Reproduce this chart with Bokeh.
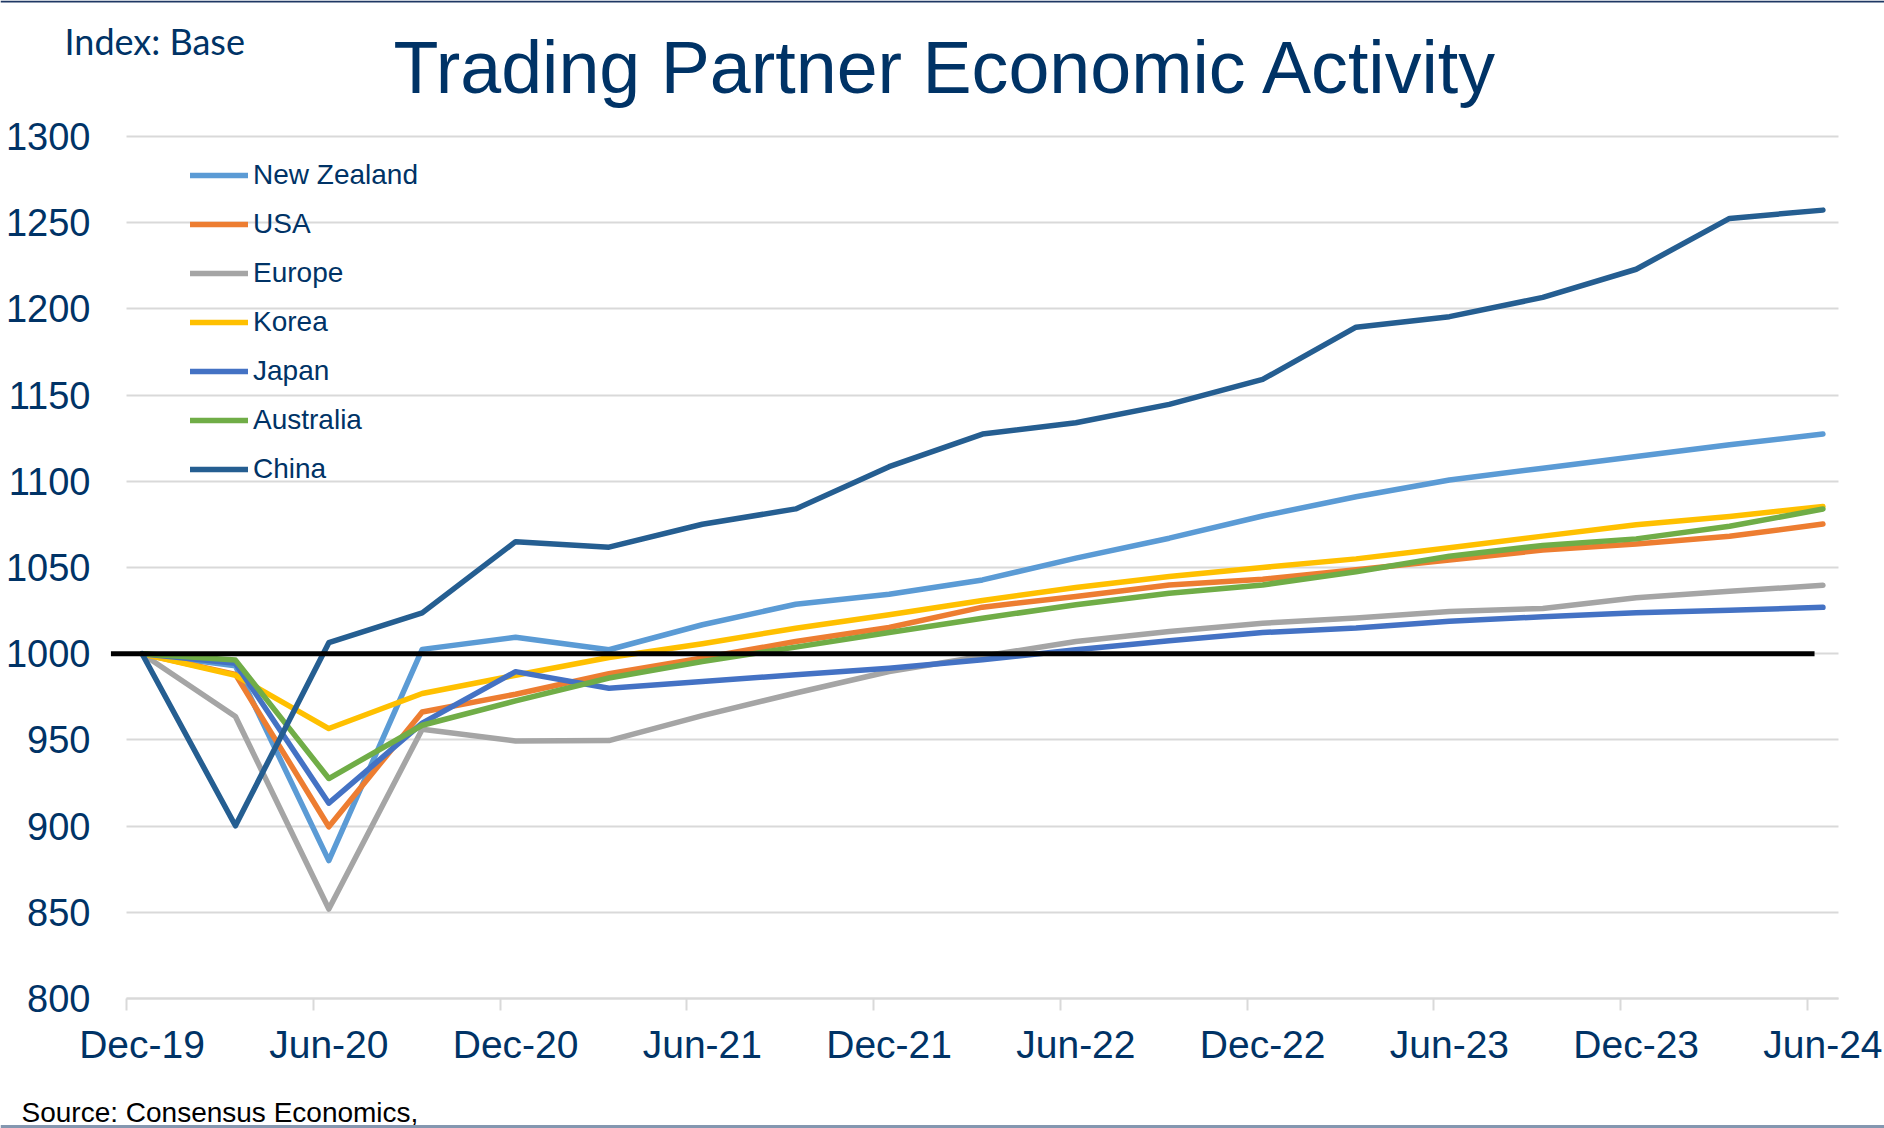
from bokeh.plotting import figure
from bokeh.models import (Range1d, LinearAxis, FixedTicker, Legend, LegendItem, Label, Span,
                          CustomLabelingPolicy)
from bokeh.embed import file_html
from bokeh.resources import INLINE

# ---------------- data ----------------
quarters = ["Dec-19", "Mar-20", "Jun-20", "Sep-20", "Dec-20", "Mar-21", "Jun-21", "Sep-21",
            "Dec-21", "Mar-22", "Jun-22", "Sep-22", "Dec-22", "Mar-23", "Jun-23", "Sep-23",
            "Dec-23", "Mar-24", "Jun-24"]
tick_labels = ["Dec-19", "Jun-20", "Dec-20", "Jun-21", "Dec-21", "Jun-22", "Dec-22",
               "Jun-23", "Dec-23", "Jun-24"]
y_ticks = [800, 850, 900, 950, 1000, 1050, 1100, 1150, 1200, 1250, 1300]

new_zealand = [1000, 993, 880, 1002.5, 1009.5, 1002.3, 1016.8, 1028.7, 1034.5, 1042.8,
               1055.4, 1067, 1079.9, 1091, 1100.8, 1107.6, 1114.4, 1121.2, 1127.4]
usa = [1000, 988, 899.6, 966.2, 976.5, 988.4, 997.5, 1007.1, 1015.2, 1027,
       1033.2, 1039.9, 1043.2, 1048.7, 1054.3, 1060.1, 1063.7, 1068.1, 1075.2]
europe = [1000, 963.6, 851.9, 956.2, 949.4, 949.6, 964.1, 977.2, 989.7, 998.5,
          1007.1, 1012.9, 1017.7, 1020.7, 1024.5, 1026.2, 1032.4, 1036.2, 1039.7]
korea = [1000, 987.5, 956.6, 976.9, 987.5, 997.8, 1005.8, 1014.8, 1022.6, 1030.9,
         1038.4, 1044.8, 1050, 1055, 1061.5, 1068.2, 1074.8, 1079.6, 1085.4]
japan = [1000, 994.4, 913.3, 959.7, 989.6, 980, 983.9, 987.8, 991.6, 996.5,
         1002.3, 1007.5, 1012.3, 1014.9, 1018.8, 1021.4, 1023.7, 1025.2, 1026.9]
australia = [1000, 996.3, 927.6, 958.5, 972.6, 985.9, 995.5, 1003.8, 1012.3, 1020.6,
             1028.4, 1035.1, 1039.9, 1047.5, 1056.5, 1062.8, 1066.6, 1073.9, 1083.9]
china = [1000, 900.2, 1006.4, 1023.7, 1065, 1061.8, 1075.1, 1084, 1108.5, 1127.4,
         1134, 1144.6, 1159.1, 1189.4, 1195.5, 1206.7, 1223, 1252.5, 1257.3]
baseline_level = 1000

series_names = ["New Zealand", "USA", "Europe", "Korea", "Japan", "Australia", "China"]
series_values = [new_zealand, usa, europe, korea, japan, australia, china]
series_colors = ["#5B9BD5", "#ED7D31", "#A5A5A5", "#FFC000", "#4472C4", "#70AD47", "#255E91"]

title_text = "Trading Partner Economic Activity"
index_text = "Index: Base"
source_text = "Source: Consensus Economics,"

NAVY = "#003366"
GRID = "#D9D9D9"

MONTHS = {"Jan": 1, "Feb": 2, "Mar": 3, "Apr": 4, "May": 5, "Jun": 6,
          "Jul": 7, "Aug": 8, "Sep": 9, "Oct": 10, "Nov": 11, "Dec": 12}


def month_index(lbl):
    m, y = lbl.split("-")
    return (2000 + int(y)) * 12 + MONTHS[m] - (2019 * 12 + 12)


x = [month_index(q) for q in quarters]

# ---------------- geometry (page pixels) ----------------
W, H = 1884, 1128
PL, PR, PT, PB = 126, 1838, 136, 998          # plot-area box on the page
x_lo, x_hi = -0.5, month_index(quarters[-1]) + 0.5
y_lo, y_hi = 800, 1300
kx = (PR - PL) / (x_hi - x_lo)
ky = (PB - PT) / (y_hi - y_lo)


def fx(px):
    return x_lo + (px - PL) / kx


def fy(py):
    return y_hi - (py - PT) / ky


p = figure(width=W, height=H, output_backend="svg", toolbar_location=None,
           x_range=Range1d(fx(0), fx(W)), y_range=Range1d(fy(H), fy(0)),
           x_axis_location=None, y_axis_location="left", min_border=0,
           min_border_left=0, min_border_right=0, min_border_top=0, min_border_bottom=0)
p.outline_line_color = None

# y axis drawn at the left edge of the plot area
p.yaxis.fixed_location = x_lo
p.yaxis.bounds = (y_lo, y_hi)
p.yaxis.ticker = FixedTicker(ticks=y_ticks)
p.yaxis.axis_line_color = None
p.yaxis.major_tick_line_color = None
p.yaxis.minor_tick_line_color = None
p.yaxis.major_tick_out = 0
p.yaxis.major_tick_in = 0
p.yaxis.major_label_standoff = 36
p.yaxis.major_label_text_font = "Liberation Sans"
p.yaxis.major_label_text_font_size = "38px"
p.yaxis.major_label_text_color = NAVY

p.xgrid.visible = False
p.ygrid.grid_line_color = GRID
p.ygrid.grid_line_width = 2
p.ygrid.cross_bounds = (x_lo, x_hi)

tick_axis = LinearAxis(ticker=FixedTicker(ticks=[month_index(t) - 0.5 for t in tick_labels]),
                       fixed_location=y_lo, bounds=(x_lo, x_hi),
                       axis_line_color=GRID, axis_line_width=2,
                       major_tick_line_color=GRID, major_tick_line_width=2,
                       major_tick_out=12, major_tick_in=0,
                       minor_tick_line_color=None, major_label_standoff=0,
                       major_label_policy=CustomLabelingPolicy(code="return"))
label_axis = LinearAxis(ticker=FixedTicker(ticks=[month_index(t) for t in tick_labels]),
                        major_label_overrides={month_index(t): t for t in tick_labels},
                        fixed_location=y_lo, bounds=(x_lo, x_hi),
                        axis_line_color=None, major_tick_line_color=None,
                        minor_tick_line_color=None, major_tick_out=0, major_tick_in=0,
                        major_label_standoff=24,
                        major_label_text_font="Liberation Sans",
                        major_label_text_font_size="39px",
                        major_label_text_color=NAVY)
p.add_layout(tick_axis, "below")
p.add_layout(label_axis, "below")

items = []
for name, vals, col in zip(series_names, series_values, series_colors):
    r = p.line(x, vals, line_color=col, line_width=5.5, line_cap="round", line_join="round")
    items.append(LegendItem(label=name, renderers=[r]))

p.line([x[0] - 1.0, x[-1] - 0.27], [baseline_level, baseline_level],
       line_color="black", line_width=5)

ROW, GAP = 32, 17
leg_h = len(items) * ROW + (len(items) - 1) * GAP
leg_top = 159
legend = Legend(items=items, location=(190, H - leg_top - leg_h), orientation="vertical",
                glyph_width=58, glyph_height=ROW, label_height=ROW, spacing=GAP,
                padding=0, margin=0, label_standoff=5,
                background_fill_alpha=0, border_line_alpha=0,
                label_text_font="Liberation Sans", label_text_font_size="28px",
                label_text_color=NAVY)
p.add_layout(legend, "center")


def text_label(px, baseline_py, text, font, size, color):
    # the renderer sits text about 0.35 em below the requested anchor; compensate
    return Label(x=fx(px), y=fy(baseline_py - 0.35 * size), text=text, text_font=font,
                 text_font_size=f"{size}px", text_color=color, text_align="left",
                 text_baseline="alphabetic")


p.add_layout(text_label(64, 53, index_text, "Lato", 36, NAVY))
p.add_layout(text_label(393, 93, title_text, "Liberation Sans", 73.6, NAVY))
p.add_layout(text_label(21, 1122, source_text, "Liberation Sans", 28, "black"))
p.add_layout(Span(location=fy(1), dimension="width", line_color="#1F3864", line_width=2))
p.add_layout(Span(location=fy(1126), dimension="width", line_color="#8497B0", line_width=3))

open("out.html", "w").write(file_html(p, INLINE))
